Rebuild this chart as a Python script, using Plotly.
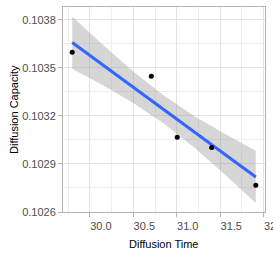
import plotly.graph_objects as go

# Observed points
diffusion_time = [29.797, 30.707, 31.005, 31.401, 31.909]
diffusion_capacity = [0.103598, 0.103448, 0.103066, 0.103003, 0.102767]

# Fitted line and confidence band
fit_x = [29.797, 30.15, 30.5, 30.85, 31.2, 31.55, 31.909]
fit_y = [0.103658, 0.103518, 0.103379, 0.103240, 0.103101, 0.102962, 0.102819]
band_upper = [0.103821, 0.103645, 0.103478, 0.103328, 0.103200, 0.103089, 0.102982]
band_lower = [0.103495, 0.103392, 0.103280, 0.103152, 0.103002, 0.102836, 0.102656]

x_ticks = [30.0, 30.5, 31.0, 31.5, 32.0]
y_ticks = [0.1026, 0.1029, 0.1032, 0.1035, 0.1038]

fig = go.Figure()
fig.add_trace(go.Scatter(
    x=fit_x + fit_x[::-1], y=band_upper + band_lower[::-1],
    fill="toself", fillcolor="rgba(153,153,153,0.4)",
    line=dict(width=0), mode="lines", hoverinfo="skip", showlegend=False))
fig.add_trace(go.Scatter(
    x=fit_x, y=fit_y, mode="lines",
    line=dict(color="#3366FF", width=3), showlegend=False))
fig.add_trace(go.Scatter(
    x=diffusion_time, y=diffusion_capacity, mode="markers",
    marker=dict(color="black", size=5), showlegend=False))

axis_common = dict(
    showline=True, mirror=True, linecolor="#B3B3B3", linewidth=1,
    ticks="outside", tickcolor="#B3B3B3", ticklen=4, tickwidth=1,
    showgrid=True, gridcolor="#E3E3E3", gridwidth=0.7, zeroline=False,
    automargin=False, ticklabeloverflow="allow",
    tickfont=dict(family="Liberation Sans", size=11, color="#4D4D4D"),
)

fig.update_layout(
    width=273, height=253,
    margin=dict(l=63, r=8, t=7, b=41),
    plot_bgcolor="white", paper_bgcolor="white",
    font=dict(family="Liberation Sans", size=11, color="black"),
    xaxis=dict(
        range=[29.691, 32.015], tickvals=x_ticks, tickformat=".1f",
        ticklabelshift=11,
        minor=dict(dtick=0.25, tick0=0, showgrid=True, gridcolor="#EEEEEE", gridwidth=0.5, ticks=""),
        **axis_common),
    yaxis=dict(
        range=[0.1026, 0.10388], tickvals=y_ticks, tickformat=".4f",
        minor=dict(dtick=0.00015, tick0=0.1026, showgrid=True, gridcolor="#EEEEEE", gridwidth=0.5, ticks=""),
        **axis_common),
    annotations=[
        dict(text="Diffusion Time", xref="paper", yref="paper", x=0.5, y=-0.155,
             xanchor="center", yanchor="middle", showarrow=False,
             font=dict(size=11, color="black")),
        dict(text="Diffusion Capacity", xref="paper", yref="paper", x=-0.245, y=0.5,
             xanchor="center", yanchor="middle", textangle=-90, showarrow=False,
             font=dict(size=11, color="black")),
    ],
)

fig.write_html("out.html", config={"displayModeBar": False},
               post_script="document.body.style.margin='0';")
